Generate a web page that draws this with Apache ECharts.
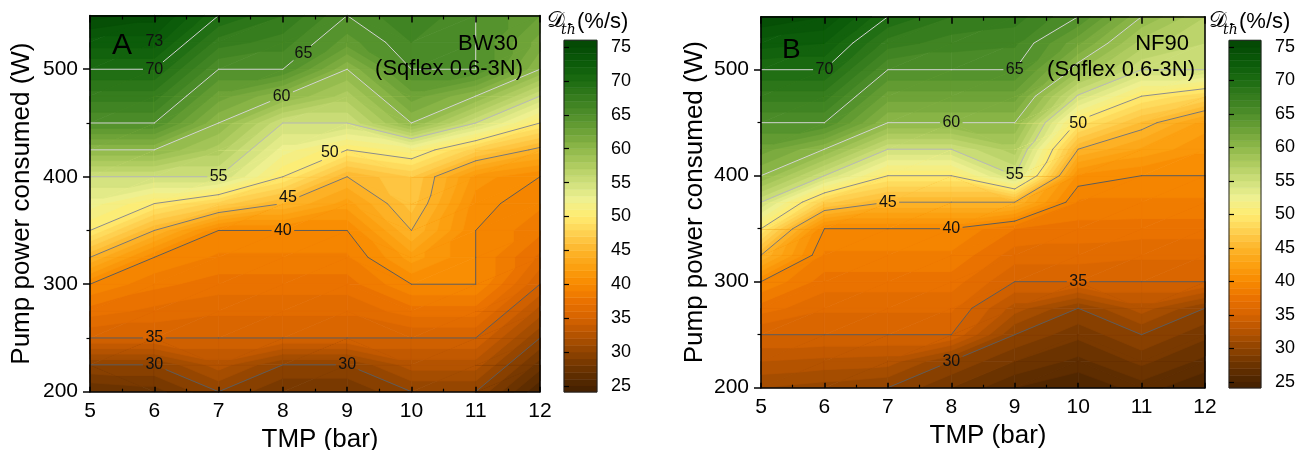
<!DOCTYPE html>
<html><head><meta charset="utf-8">
<script src="https://cdn.jsdelivr.net/npm/echarts@6/dist/echarts.min.js"></script>
<style>html,body{margin:0;padding:0;background:#fff}#c{width:1304px;height:450px}</style>
</head><body><div id="c"></div>
<script>
// ---------------- DATA ----------------
const TMP = [5, 6, 7, 8, 9, 10, 11, 12];
const POWER = [200, 225, 250, 275, 300, 325, 350, 375, 400, 425, 450, 475, 500, 525, 550];
// Panel A (BW30): D_th values at POWER rows, one array per TMP column
const A_5  = [27, 30, 35, 37.5, 40, 45, 50, 52.5, 55, 60, 65, 67.5, 70, 72.5, 75.5];
const A_6  = [27.5, 30, 35, 36.7, 38.3, 40, 45, 50, 55, 60, 65, 67.5, 70, 72.5, 74.5];
const A_7  = [30, 32.5, 35, 36.2, 37.5, 38.8, 40, 47.5, 55, 57.5, 60, 62.5, 65, 67.5, 70];
const A_8  = [28, 30, 35, 36.2, 37.5, 38.8, 40, 45, 50, 52.5, 55, 60, 65, 66.5, 68];
const A_9  = [28, 30, 35, 36.2, 37.5, 38.8, 40, 42.5, 45, 50, 55, 57.5, 60, 63.5, 65];
const A_10 = [30, 32.5, 35, 37.5, 40, 42.5, 45, 46.5, 47, 51.5, 60, 62.5, 65, 66, 67];
const A_11 = [30, 32.5, 35, 37.5, 40, 40, 40, 40.5, 41.5, 47.4, 55, 60, 65, 65, 65];
const A_12 = [25, 27.5, 30, 32.5, 35, 36.7, 38.3, 39.2, 40, 44.5, 50, 55, 60, 61.5, 63];
// Panel B (NF90)
const B_5  = [31, 33, 35, 37.5, 40, 45, 50, 55, 60, 62.5, 65, 67.5, 70, 72.5, 75];
const B_6  = [30.5, 32.7, 35, 36.2, 37.5, 38.8, 40, 47.3, 55, 60, 65, 67.5, 70, 72, 74];
const B_7  = [30, 32.5, 35, 36.2, 37.5, 38.8, 40, 45, 50, 55, 60, 62.5, 65, 67.5, 70];
const B_8  = [28, 30, 35, 36.2, 37.5, 38.8, 40, 45, 50, 55, 60, 62.5, 65, 66.5, 68];
const B_9  = [26, 28, 30, 32.5, 35, 36.5, 38, 45, 55, 57.5, 60, 62.5, 65, 66.2, 67.5];
const B_10 = [25, 26.7, 28.3, 30, 35, 36.5, 37.6, 38.8, 40.8, 45, 49.6, 54.8, 59.2, 62.2, 65];
const B_11 = [26.5, 28.3, 30, 32.5, 35, 36.2, 37.5, 38.8, 40, 42.8, 45.8, 50, 55, 57.5, 60];
const B_12 = [25, 26.7, 28.3, 30, 35, 36.2, 37.5, 38.8, 40, 41.2, 42.5, 48, 55, 56, 57];

const CONTOUR_LEVELS = [30, 35, 40, 45, 50, 55, 60, 65, 70];
// contour labels: [TMP, power, text]
const A_LABELS = [[6, 525.6, '73'], [6, 500, '70'], [8.32, 515, '65'], [7.98, 474.4, '60'], [7, 400.5, '55'],
  [8.73, 422, '50'], [8.08, 381, '45'], [8, 350, '40'], [6, 250, '35'], [6, 225, '30'], [9, 225, '30']];
const B_LABELS = [[6, 500, '70'], [9, 500, '65'], [8, 450, '60'], [9, 400.6, '55'], [10, 449.5, '50'],
  [7, 374.5, '45'], [8, 350, '40'], [10, 300, '35'], [8, 224.5, '30']];

const X_TICKS = [5, 6, 7, 8, 9, 10, 11, 12];
const Y_TICKS = [200, 300, 400, 500];
const Y_MINOR = [250, 350, 450];
const CB_TICKS = [25, 30, 35, 40, 45, 50, 55, 60, 65, 70, 75];
const CB_MIN = 24.1, CB_MAX = 76;
const CB_LEVELS = [];
for (let L = 24; L <= 75; L++) CB_LEVELS.push(L);

const A_COLS = [A_5, A_6, A_7, A_8, A_9, A_10, A_11, A_12];
const B_COLS = [B_5, B_6, B_7, B_8, B_9, B_10, B_11, B_12];

// ---------------- STYLE ----------------
const FONT = "'Liberation Sans', Arial, sans-serif";
const SERIF = "'DejaVu Serif', 'Liberation Serif', serif";
const STOPS = [
  [24, '#432000'], [25, '#4a2400'], [27.5, '#6b3300'], [30, '#8f4300'], [32.5, '#b45300'],
  [35, '#d66300'], [37.5, '#ea7200'], [40, '#f88a00'], [42.5, '#fca010'], [45, '#fdb52a'],
  [47.5, '#fed050'], [50, '#ffec70'], [52.5, '#eef090'], [55, '#cfe07c'], [57.5, '#afcc60'],
  [60, '#8fb84a'], [62.5, '#6ea338'], [65, '#4f8f2a'], [67.5, '#367d1e'], [70, '#1c6c12'],
  [72.5, '#0c5c0a'], [75, '#054c05'], [77, '#034503']
];
function hex(c) { return [parseInt(c.slice(1, 3), 16), parseInt(c.slice(3, 5), 16), parseInt(c.slice(5, 7), 16)]; }
function colorOf(v) {
  if (v <= STOPS[0][0]) return STOPS[0][1];
  for (let k = 1; k < STOPS.length; k++) {
    if (v <= STOPS[k][0]) {
      const a = STOPS[k - 1], b = STOPS[k];
      const t = (v - a[0]) / (b[0] - a[0]);
      const ca = hex(a[1]), cb = hex(b[1]);
      return 'rgb(' + ca.map((x, n) => Math.round(x + (cb[n] - x) * t)).join(',') + ')';
    }
  }
  return STOPS[STOPS.length - 1][1];
}
function bandColor(L) { return colorOf(L + 0.5); }
function lineColor(L) {
  if (L >= 60) return '#d4d4d4';
  if (L >= 55) return '#b8b8b8';
  if (L >= 50) return '#8c8c8c';
  if (L >= 45) return '#777777';
  return '#5c5c5c';
}

// ---------------- GEOMETRY HELPERS ----------------
function lerpPt(a, b, t) { return [a[0] + (b[0] - a[0]) * t, a[1] + (b[1] - a[1]) * t]; }
function clipAbove(P, V, L) {
  const out = [];
  for (let k = 0; k < 3; k++) {
    const a = k, b = (k + 1) % 3;
    const ia = V[a] >= L, ib = V[b] >= L;
    if (ia) out.push(P[a]);
    if (ia !== ib) out.push(lerpPt(P[a], P[b], (L - V[a]) / (V[b] - V[a])));
  }
  return out;
}
function isoSeg(P, V, L) {
  const pts = [];
  for (let k = 0; k < 3; k++) {
    const a = k, b = (k + 1) % 3;
    const ia = V[a] >= L, ib = V[b] >= L;
    if (ia !== ib) pts.push(lerpPt(P[a], P[b], (L - V[a]) / (V[b] - V[a])));
  }
  return pts.length === 2 ? pts : null;
}
function cellTris(cols, i, j, api) {
  const P = (a, b) => api.coord([TMP[a], POWER[b]]);
  const p00 = P(i, j), p10 = P(i + 1, j), p01 = P(i, j + 1), p11 = P(i + 1, j + 1);
  const v00 = cols[i][j], v10 = cols[i + 1][j], v01 = cols[i][j + 1], v11 = cols[i + 1][j + 1];
  if (Math.abs(v00 - v11) <= Math.abs(v10 - v01))
    return [[[p00, p10, p11], [v00, v10, v11]], [[p00, p11, p01], [v00, v11, v01]]];
  return [[[p00, p10, p01], [v00, v10, v01]], [[p10, p11, p01], [v10, v11, v01]]];
}
function subtractBoxes(p, q, boxes) {
  let segs = [[p, q]];
  for (const b of boxes) {
    const out = [];
    for (const [a, c] of segs) {
      const dx = c[0] - a[0], dy = c[1] - a[1];
      const Pp = [-dx, dx, -dy, dy];
      const Q = [a[0] - b.x0, b.x1 - a[0], a[1] - b.y0, b.y1 - a[1]];
      let t0 = 0, t1 = 1, hit = true;
      for (let k = 0; k < 4; k++) {
        if (Pp[k] === 0) { if (Q[k] < 0) { hit = false; break; } }
        else {
          const r = Q[k] / Pp[k];
          if (Pp[k] < 0) { if (r > t1) { hit = false; break; } if (r > t0) t0 = r; }
          else { if (r < t0) { hit = false; break; } if (r < t1) t1 = r; }
        }
      }
      if (!hit || t0 >= t1) { out.push([a, c]); continue; }
      if (t0 > 0) out.push([a, lerpPt(a, c, t0)]);
      if (t1 < 1) out.push([lerpPt(a, c, t1), c]);
    }
    segs = out;
  }
  return segs;
}

// ---------------- RENDERERS ----------------
function makeFill(cols) {
  return function (params, api) {
    const i = api.value(2), j = api.value(3);
    const children = [];
    for (const [Pt, V] of cellTris(cols, i, j, api)) {
      const lo = Math.floor(Math.min.apply(null, V)), hi = Math.max.apply(null, V);
      const c0 = bandColor(lo);
      children.push({ type: 'polygon', silent: true, shape: { points: Pt }, style: { fill: c0, stroke: c0, lineWidth: 0.7 } });
      for (let L = lo + 1; L < hi; L++) {
        const pts = clipAbove(Pt, V, L);
        if (pts.length >= 3) {
          const c = bandColor(L);
          children.push({ type: 'polygon', silent: true, shape: { points: pts }, style: { fill: c, stroke: c, lineWidth: 0.7 } });
        }
      }
    }
    return { type: 'group', children };
  };
}
function labelBoxes(labels, api) {
  return labels.map(l => {
    const c = api.coord([l[0], l[1]]);
    const hw = l[2].length * 4.6 + 2.5;
    return { x0: c[0] - hw, x1: c[0] + hw, y0: c[1] - 7.5, y1: c[1] + 7.5 };
  });
}
function makeLines(cols, labels) {
  return function (params, api) {
    const i = api.value(2), j = api.value(3);
    const boxes = labelBoxes(labels, api);
    const children = [];
    for (const [Pt, V] of cellTris(cols, i, j, api)) {
      for (const L of CONTOUR_LEVELS) {
        const s = isoSeg(Pt, V, L);
        if (!s) continue;
        if (Math.hypot(s[1][0] - s[0][0], s[1][1] - s[0][1]) < 0.05) continue;
        for (const [a, b] of subtractBoxes(s[0], s[1], boxes)) {
          children.push({ type: 'line', silent: true, shape: { x1: a[0], y1: a[1], x2: b[0], y2: b[1] },
            style: { stroke: lineColor(L), lineWidth: 1, lineCap: 'round' } });
        }
      }
    }
    return { type: 'group', children };
  };
}
function makeLabels(labels) {
  return function (params, api) {
    const l = labels[params.dataIndex];
    const c = api.coord([l[0], l[1]]);
    return { type: 'text', silent: true, x: c[0], y: c[1],
      style: { text: l[2], fontSize: 16, fontFamily: FONT, fill: '#111', align: 'center', verticalAlign: 'middle' } };
  };
}
function cbRender(params, api) {
  const L = CB_LEVELS[params.dataIndex];
  const y0 = Math.max(L, CB_MIN), y1 = Math.min(L + 1, CB_MAX);
  const a = api.coord([0, y1]), b = api.coord([1, y0]);
  const c = bandColor(L);
  return { type: 'rect', silent: true, shape: { x: a[0], y: a[1], width: b[0] - a[0], height: b[1] - a[1] },
    style: { fill: c, stroke: c, lineWidth: 0.5 } };
}
function cbBorder(params, api) {
  const a = api.coord([0, CB_MAX]), b = api.coord([1, CB_MIN]);
  return { type: 'rect', silent: true, shape: { x: a[0], y: a[1], width: b[0] - a[0], height: b[1] - a[1] },
    style: { fill: 'none', stroke: '#222', lineWidth: 1 } };
}

const cells = [];
for (let i = 0; i < TMP.length - 1; i++)
  for (let j = 0; j < POWER.length - 1; j++) cells.push([TMP[i], POWER[j], i, j]);

// ---------------- AXES ----------------
const AX = { color: '#000', width: 1.5 };
function xBottom(g, gap) {
  return { gridIndex: g, type: 'value', position: 'bottom', min: 5, max: 12, interval: 1, z: 10,
    axisLine: { lineStyle: AX }, axisTick: { inside: true, length: 5, lineStyle: AX },
    minorTick: { show: true, splitNumber: 2, length: 3, lineStyle: { color: '#000', width: 1.2 } },
    axisLabel: { fontSize: 21, color: '#000', fontFamily: FONT, margin: 9, customValues: X_TICKS },
    splitLine: { show: false }, minorSplitLine: { show: false },
    name: 'TMP (bar)', nameLocation: 'middle', nameGap: gap,
    nameTextStyle: { fontSize: 26, color: '#000', fontFamily: FONT, padding: [0, 0, 0, 10] } };
}
function xTop(g) {
  return { gridIndex: g, type: 'value', position: 'top', min: 5, max: 12, interval: 1, z: 10,
    axisLine: { lineStyle: AX }, axisTick: { inside: true, length: 7, lineStyle: AX },
    minorTick: { show: true, splitNumber: 2, length: 4, lineStyle: { color: '#000', width: 1.2 } },
    axisLabel: { show: false }, splitLine: { show: false }, minorSplitLine: { show: false } };
}
function yLeft(g, gap) {
  return { gridIndex: g, type: 'value', position: 'left', min: 200, max: 550, interval: 50, z: 10,
    axisLine: { show: true, lineStyle: AX },
    axisTick: { show: true, length: 7, lineStyle: AX, customValues: Y_TICKS },
    axisLabel: { fontSize: 21, color: '#000', fontFamily: FONT, margin: 12, customValues: Y_TICKS },
    splitLine: { show: false },
    name: 'Pump power consumed (W)', nameLocation: 'middle', nameGap: gap,
    nameTextStyle: { fontSize: 26, color: '#000', fontFamily: FONT } };
}
function yLeftMinor(g) {
  return { gridIndex: g, type: 'value', position: 'left', min: 200, max: 550, interval: 50, z: 10,
    axisLine: { show: false }, axisTick: { show: true, length: 3.5, lineStyle: { color: '#000', width: 1.2 }, customValues: Y_MINOR },
    axisLabel: { show: false }, splitLine: { show: false } };
}
function yRight(g) {
  return { gridIndex: g, type: 'value', position: 'right', min: 200, max: 550, z: 10,
    axisLine: { show: true, lineStyle: AX }, axisTick: { show: false }, axisLabel: { show: false }, splitLine: { show: false } };
}
function cbX(g) { return { gridIndex: g, type: 'value', min: 0, max: 1, show: false }; }
function cbY(g) {
  return { gridIndex: g, type: 'value', position: 'right', min: 25, max: 75, interval: 5, z: 10,
    axisLine: { show: false }, axisTick: { show: true, inside: false, length: 5, lineStyle: { color: '#000', width: 1.2 } },
    axisLabel: { fontSize: 18, color: '#000', fontFamily: FONT, margin: 14, customValues: CB_TICKS },
    splitLine: { show: false } };
}

function txt(x, y, s, size, align, extra) {
  return Object.assign({ type: 'text', x, y, silent: true, z: 20,
    style: Object.assign({ text: s, fontSize: size, fontFamily: FONT, fill: '#000', align: align, verticalAlign: 'middle' }, extra || {}) });
}

const option = {
  animation: false,
  backgroundColor: '#fff',
  grid: [
    { left: 90, top: 15.5, width: 450, height: 376.2, outerBoundsMode: 'none', containLabel: false },
    { left: 564, top: 47, width: 33, height: 339, outerBoundsMode: 'none', containLabel: false },
    { left: 761, top: 16.7, width: 444, height: 371, outerBoundsMode: 'none', containLabel: false },
    { left: 1229, top: 47, width: 32, height: 335, outerBoundsMode: 'none', containLabel: false }
  ],
  xAxis: [xBottom(0, 32), xTop(0), cbX(1), xBottom(2, 34), xTop(2), cbX(3)],
  yAxis: [yLeft(0, 55), yLeftMinor(0), yRight(0), cbY(1), yLeft(2, 53), yLeftMinor(2), yRight(2), cbY(3)],
  series: [
    { type: 'custom', xAxisIndex: 0, yAxisIndex: 0, z: 1, silent: true, data: cells, encode: { x: 0, y: 1 }, renderItem: makeFill(A_COLS) },
    { type: 'custom', xAxisIndex: 0, yAxisIndex: 0, z: 2, silent: true, data: cells, encode: { x: 0, y: 1 }, renderItem: makeLines(A_COLS, A_LABELS) },
    { type: 'custom', xAxisIndex: 0, yAxisIndex: 0, z: 3, silent: true, data: A_LABELS.map(l => [l[0], l[1]]), encode: { x: 0, y: 1 }, renderItem: makeLabels(A_LABELS) },
    { type: 'custom', xAxisIndex: 2, yAxisIndex: 3, z: 1, silent: true, clip: false, data: CB_LEVELS.map(L => [0.5, L]), encode: { x: 0, y: 1 }, renderItem: cbRender },
    { type: 'custom', xAxisIndex: 2, yAxisIndex: 3, z: 2, silent: true, clip: false, data: [[0.5, 50]], encode: { x: 0, y: 1 }, renderItem: cbBorder },
    { type: 'custom', xAxisIndex: 3, yAxisIndex: 4, z: 1, silent: true, data: cells, encode: { x: 0, y: 1 }, renderItem: makeFill(B_COLS) },
    { type: 'custom', xAxisIndex: 3, yAxisIndex: 4, z: 2, silent: true, data: cells, encode: { x: 0, y: 1 }, renderItem: makeLines(B_COLS, B_LABELS) },
    { type: 'custom', xAxisIndex: 3, yAxisIndex: 4, z: 3, silent: true, data: B_LABELS.map(l => [l[0], l[1]]), encode: { x: 0, y: 1 }, renderItem: makeLabels(B_LABELS) },
    { type: 'custom', xAxisIndex: 5, yAxisIndex: 7, z: 1, silent: true, clip: false, data: CB_LEVELS.map(L => [0.5, L]), encode: { x: 0, y: 1 }, renderItem: cbRender },
    { type: 'custom', xAxisIndex: 5, yAxisIndex: 7, z: 2, silent: true, clip: false, data: [[0.5, 50]], encode: { x: 0, y: 1 }, renderItem: cbBorder }
  ],
  graphic: [
    txt(112, 46, 'A', 30, 'left'),
    txt(518, 43.5, 'BW30', 22, 'right'),
    txt(523, 69, '(Sqflex 0.6-3N)', 22, 'right'),
    txt(782, 50, 'B', 28, 'left'),
    txt(1189, 43.5, 'NF90', 22, 'right'),
    txt(1195, 69.5, '(Sqflex 0.6-3N)', 22, 'right'),
    txt(547, 21, '\u{1D49F}', 22, 'left', { fontFamily: SERIF }),
    txt(561, 30, 't\u0127', 14, 'left', { fontFamily: SERIF, fontStyle: 'italic' }),
    txt(577, 22, '(%/s)', 22, 'left'),
    txt(1209, 21, '\u{1D49F}', 22, 'left', { fontFamily: SERIF }),
    txt(1223, 30, 't\u0127', 14, 'left', { fontFamily: SERIF, fontStyle: 'italic' }),
    txt(1239, 22, '(%/s)', 22, 'left')
  ]
};
const chart = echarts.init(document.getElementById('c'), null, { renderer: 'canvas' });
chart.setOption(option);
</script></body></html>
